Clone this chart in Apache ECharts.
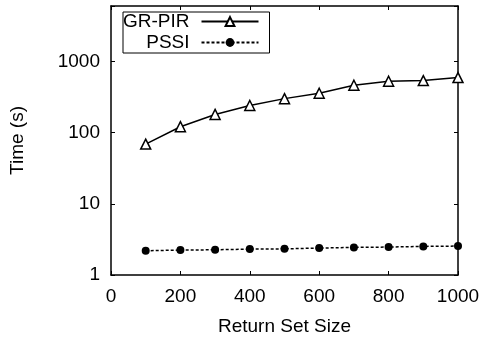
<!DOCTYPE html>
<html>
<head>
<meta charset="utf-8">
<script src="https://cdn.jsdelivr.net/npm/echarts@6/dist/echarts.min.js"></script>
<style>
  html, body { margin: 0; padding: 0; background: #fff; }
  #chart { width: 482px; height: 339px; }
</style>
</head>
<body>
<div id="chart"></div>
<script>
const returnSetSize = [100, 200, 300, 400, 500, 600, 700, 800, 900, 1000];
const grPir = [69, 121, 180, 240, 300, 357, 463, 526, 538, 593];
const pssi = [2.19, 2.24, 2.26, 2.31, 2.33, 2.39, 2.44, 2.47, 2.52, 2.55];
const xTicks = [0, 200, 400, 600, 800, 1000];
const yTicks = [1, 10, 100, 1000];

const chart = echarts.init(document.getElementById('chart'));
const font = 'Liberation Sans';
const fs = 19;
const lineW = 1.5;

const pairs = ys => returnSetSize.map((x, i) => [x, ys[i]]);

const baseX = {
  type: 'value',
  min: 0,
  max: 1000,
  interval: 200,
  splitLine: { show: false },
  axisLine: { show: true, onZero: false, lineStyle: { color: '#000', width: lineW } },
  axisTick: { show: true, inside: true, length: 4, lineStyle: { color: '#000', width: 1 } },
};
const baseY = {
  type: 'log',
  logBase: 10,
  min: 1,
  max: 6000,
  splitLine: { show: false },
  axisLine: { show: true, onZero: false, lineStyle: { color: '#000', width: lineW } },
  axisTick: { show: true, inside: true, length: 4, lineStyle: { color: '#000', width: 1 } },
};

const option = {
  animation: false,
  textStyle: { fontFamily: font },
  grid: { left: 111, right: 24, top: 6, bottom: 64, outerBoundsMode: 'none', containLabel: false },
  xAxis: [
    Object.assign({}, baseX, {
      position: 'bottom',
      name: 'Return Set Size',
      nameLocation: 'middle',
      nameGap: 42,
      nameTextStyle: { fontFamily: font, fontSize: fs, color: '#000' },
      axisLabel: {
        margin: 12, fontFamily: font, fontSize: fs, color: '#000',
        formatter: v => xTicks.includes(v) ? String(v) : ''
      }
    }),
    Object.assign({}, baseX, { position: 'top', axisLabel: { show: false } })
  ],
  yAxis: [
    Object.assign({}, baseY, {
      position: 'left',
      name: 'Time (s)',
      nameLocation: 'middle',
      nameGap: 84,
      nameTextStyle: { fontFamily: font, fontSize: fs, color: '#000' },
      axisLabel: {
        margin: 11, fontFamily: font, fontSize: fs, color: '#000',
        formatter: v => yTicks.includes(Math.round(v)) && Math.abs(v - Math.round(v)) < 1e-6 ? String(Math.round(v)) : ''
      }
    }),
    Object.assign({}, baseY, { position: 'right', axisLabel: { show: false } })
  ],
  legend: {
    orient: 'vertical',
    align: 'right',
    left: 123,
    top: 12,
    itemWidth: 57,
    itemHeight: 11,
    itemGap: 2,
    padding: [0, 10, 1, 0],
    borderColor: '#000',
    borderWidth: 1,
    textStyle: { fontFamily: font, fontSize: fs, color: '#000', padding: [0, 7, 0, 0] },
    data: ['GR-PIR', 'PSSI']
  },
  series: [
    {
      name: 'GR-PIR',
      type: 'line',
      data: pairs(grPir),
      symbol: 'triangle',
      symbolSize: 10,
      lineStyle: { color: '#000', width: lineW, type: 'solid' },
      itemStyle: { color: '#fff', borderColor: '#000', borderWidth: 1.5 }
    },
    {
      name: 'PSSI',
      type: 'line',
      data: pairs(pssi),
      symbol: 'circle',
      symbolSize: 8,
      lineStyle: { color: '#000', width: lineW, type: [3, 2] },
      itemStyle: { color: '#000', borderColor: '#000', borderWidth: 0 }
    }
  ]
};

chart.setOption(option);
</script>
</body>
</html>
